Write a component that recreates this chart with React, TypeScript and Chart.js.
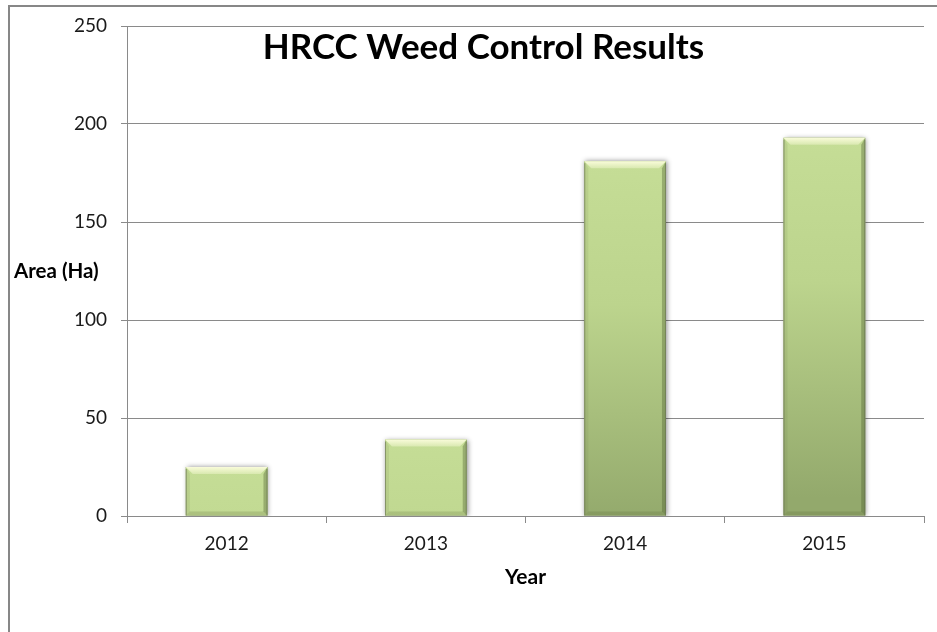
import React, { useEffect, useRef } from 'react';
import { Chart, registerables } from 'chart.js';

Chart.register(...registerables);

const categories = ['2012', '2013', '2014', '2015'];
const areaHa = [25, 39, 181, 193];
const yMin = 0;
const yMax = 250;
const yStep = 50;
const chartTitle = 'HRCC Weed Control Results';
const yTitle = 'Area (Ha)';
const xTitle = 'Year';

const FONT = 'Lato, "Open Sans", sans-serif';
const FRAME = '#878787';

const barGeom = (bar: any) => {
  const p = bar.getProps(['x', 'y', 'base', 'width'], true);
  const l = p.x - p.width / 2;
  return { l, r: l + p.width, t: Math.min(p.y, p.base), b: Math.max(p.y, p.base), w: p.width };
};

const framePlugin = {
  id: 'frame',
  beforeDraw(chart: any) {
    const { ctx, width, height } = chart;
    ctx.save();
    ctx.fillStyle = '#ffffff';
    ctx.fillRect(0, 0, width, height);
    ctx.fillStyle = FRAME;
    ctx.fillRect(8, 5, 2, height - 5);
    ctx.fillRect(8, 5, width - 8, 2);
    ctx.restore();
  },
};

const bevelPlugin = {
  id: 'bevel',
  beforeDatasetsDraw(chart: any) {
    const { ctx, chartArea } = chart;
    ctx.save();
    ctx.beginPath();
    ctx.rect(chartArea.left, chartArea.top - 10, chartArea.right - chartArea.left, chartArea.bottom - chartArea.top + 10);
    ctx.clip();
    chart.getDatasetMeta(0).data.forEach((bar: any) => {
      const g = barGeom(bar);
      if (![g.l, g.t, g.w, g.b].every(Number.isFinite)) return;
      ctx.shadowColor = 'rgba(0,0,0,0.45)';
      ctx.shadowBlur = 5;
      ctx.shadowOffsetX = 1;
      ctx.shadowOffsetY = 0;
      ctx.fillStyle = '#9aae74';
      ctx.fillRect(g.l, g.t, g.w, g.b - g.t);
    });
    ctx.restore();
  },
  afterDatasetsDraw(chart: any) {
    const { ctx } = chart;
    const bv = 7;
    ctx.save();
    chart.getDatasetMeta(0).data.forEach((bar: any) => {
      const { l, r, t, b } = barGeom(bar);
      if (![l, r, t, b].every(Number.isFinite)) return;
      const tg = ctx.createLinearGradient(0, t, 0, t + bv);
      tg.addColorStop(0, 'rgba(255,255,225,0.9)');
      tg.addColorStop(1, 'rgba(255,255,225,0.35)');
      ctx.fillStyle = tg;
      ctx.beginPath();
      ctx.moveTo(l, t);
      ctx.lineTo(r, t);
      ctx.lineTo(r - bv, t + bv);
      ctx.lineTo(l + bv, t + bv);
      ctx.closePath();
      ctx.fill();
      ctx.fillStyle = 'rgba(90,100,60,0.10)';
      ctx.beginPath();
      ctx.moveTo(l, t);
      ctx.lineTo(l + 4, t + bv);
      ctx.lineTo(l + 4, b - 4);
      ctx.lineTo(l, b);
      ctx.closePath();
      ctx.fill();
      ctx.fillStyle = 'rgba(70,85,40,0.35)';
      ctx.beginPath();
      ctx.moveTo(r, t);
      ctx.lineTo(r - 4, t + bv);
      ctx.lineTo(r - 4, b - 4);
      ctx.lineTo(r, b);
      ctx.closePath();
      ctx.fill();
      ctx.fillStyle = 'rgba(70,85,40,0.18)';
      ctx.beginPath();
      ctx.moveTo(l, b);
      ctx.lineTo(l + 4, b - 4);
      ctx.lineTo(r - 4, b - 4);
      ctx.lineTo(r, b);
      ctx.closePath();
      ctx.fill();
      ctx.strokeStyle = 'rgba(100,110,80,0.6)';
      ctx.lineWidth = 1;
      ctx.beginPath();
      ctx.moveTo(l + 0.5, t + 2);
      ctx.lineTo(l + 0.5, b);
      ctx.moveTo(r - 0.5, t + 2);
      ctx.lineTo(r - 0.5, b);
      ctx.stroke();
    });
    ctx.restore();
  },
};

const textPlugin = {
  id: 'texts',
  afterDraw(chart: any) {
    const { ctx, chartArea } = chart;
    ctx.save();
    ctx.fillStyle = '#000000';
    ctx.textBaseline = 'alphabetic';
    ctx.textAlign = 'center';
    ctx.font = `bold 35px ${FONT}`;
    ctx.fillText(chartTitle, 483.5, 59);
    ctx.textAlign = 'left';
    ctx.textBaseline = 'middle';
    ctx.font = `bold 20.5px ${FONT}`;
    ctx.fillText(yTitle, 14, (chartArea.top + chartArea.bottom) / 2);
    ctx.restore();
  },
};

export default function App() {
  const ref = useRef<HTMLCanvasElement | null>(null);

  useEffect(() => {
    document.body.style.overflow = 'hidden';
    const canvas = ref.current;
    if (!canvas) return;
    const chart = new Chart(canvas, {
      type: 'bar',
      data: {
        labels: categories,
        datasets: [
          {
            label: yTitle,
            data: areaHa,
            borderWidth: 0,
            categoryPercentage: 1,
            barPercentage: 0.41,
            backgroundColor: (c: any) => {
              const chartObj = c.chart;
              const ys = chartObj.scales?.y;
              if (!ys || c.raw === undefined) return '#b5cc88';
              const top = ys.getPixelForValue(c.raw);
              if (!Number.isFinite(top)) return '#b5cc88';
              const g = chartObj.ctx.createLinearGradient(0, top, 0, top + 360);
              g.addColorStop(0, '#c5dd96');
              g.addColorStop(0.4, '#bcd48d');
              g.addColorStop(1, '#93a96c');
              return g;
            },
          },
        ],
      },
      options: {
        responsive: false,
        animation: false,
        layout: { padding: { left: 10, top: 26, right: 13, bottom: 0 } },
        plugins: {
          legend: { display: false },
          title: { display: false },
          tooltip: { enabled: false },
        },
        scales: {
          x: {
            afterFit: (s: any) => {
              s.height = 116;
            },
            grid: {
              drawOnChartArea: false,
              drawTicks: true,
              tickLength: 7,
              color: '#8a8a8a',
              offset: true,
            },
            border: { display: true, color: '#8a8a8a', width: 1 },
            ticks: {
              color: '#1a1a1a',
              padding: 9,
              font: { family: FONT, size: 19 },
            },
            title: {
              display: true,
              text: xTitle,
              color: '#000000',
              font: { family: FONT, size: 21, weight: 'bold' },
              padding: { top: 0, bottom: 42 },
            },
          },
          y: {
            min: yMin,
            max: yMax,
            afterFit: (s: any) => {
              s.width = 117;
            },
            grid: {
              color: '#8a8a8a',
              tickLength: 6,
              drawTicks: true,
            },
            border: { display: true, color: '#8a8a8a', width: 1 },
            ticks: {
              stepSize: yStep,
              color: '#1a1a1a',
              padding: 14,
              font: { family: FONT, size: 19 },
            },
          },
        },
      },
      plugins: [framePlugin, bevelPlugin, textPlugin],
    });
    return () => chart.destroy();
  }, []);

  return (
    <div style={{ position: 'fixed', left: 0, top: 0, width: 937, height: 632, background: '#ffffff' }}>
      <canvas ref={ref} width={937} height={632} style={{ display: 'block' }} />
    </div>
  );
}
